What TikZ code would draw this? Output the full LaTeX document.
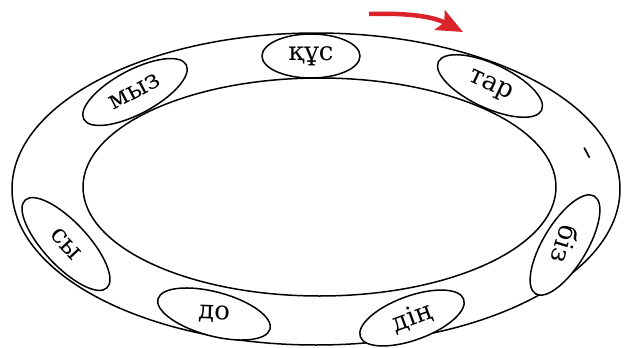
\documentclass[tikz,border=0pt]{standalone}
\usepackage{fontspec}
\setmainfont{DejaVu Serif}
\usetikzlibrary{arrows.meta,shapes.geometric}
\definecolor{arrowred}{RGB}{218,35,42}
\tikzset{
  syl/.style={draw,ellipse,fill=white,inner sep=0pt,minimum height=44pt,font=\fontsize{26}{30}\selectfont},
}

\begin{document}
\begin{tikzpicture}[x=1pt,y=-1pt,line width=1.5pt]
        \useasboundingbox (0,0) rectangle (627,348);
        \draw (316,189) ellipse [x radius=304pt,y radius=156pt]; % outer ring
        \draw (319.5,187) ellipse [x radius=236.5pt,y radius=109pt]; % inner ring
        \foreach \n/\x/\y/\a/\w/\t in {kus/311/56/0/98pt/құс, myz/135/92/28/116pt/мыз, tar/490/86/-25/114pt/тар, sy/66/244/-47/120pt/сы, do/214/314/-15/116pt/\rotatebox{13}{до}, din/412/318/20/110pt/дің, biz/565/245/-121/114pt/\rotatebox{14}{біз}} % edit here for the syllables
        \node[syl,rotate=\a,minimum width=\w] (\n) at (\x,\y) {\t};
        \node[rotate=-62,font=\fontsize{28}{30}\selectfont] (dash) at (584,155) {–};
        \coordinate (arrfrom) at (369,14);
        \coordinate (arrto) at (463,32);
        \draw[arrowred,line width=4.5pt,-{Stealth[length=26pt,width=22pt,inset=5pt]}] (arrfrom) .. controls (400,13) and (430,15) .. (arrto);
\end{tikzpicture}
\end{document}
